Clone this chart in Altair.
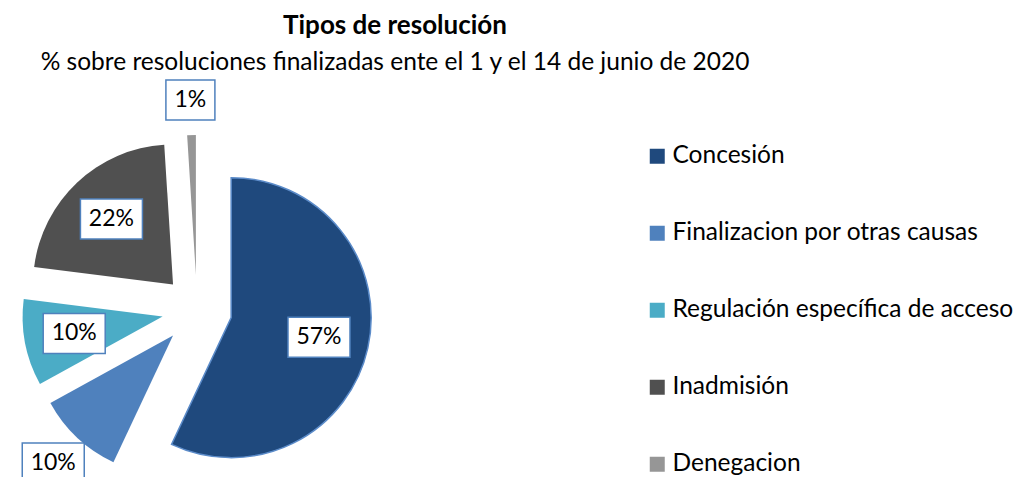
import altair as alt
import pandas as pd

# ---- data -----------------------------------------------------------
categories = [
    "Concesión",
    "Finalizacion por otras causas",
    "Regulación específica de acceso",
    "Inadmisión",
    "Denegacion",
]
values = [57, 10, 10, 22, 1]
colors = ["#1F497D", "#4F81BD", "#4BACC6", "#505050", "#969696"]
label_outside = [False, True, False, False, True]

title = "Tipos de resolución"
subtitle = "% sobre resoluciones finalizadas  ente el 1 y el 14 de junio de 2020"

df = pd.DataFrame({
    "category": categories,
    "value": values,
    "order": list(range(len(categories))),
    "outside": label_outside,
})

# ---- layout constants (view coordinates) ----------------------------
FONT = "Lato"
PAD_TOP = 70
CX, CY = 189, 310 - 8 - PAD_TOP
R = 140
EXPLODE = 35
R_IN, R_OUT = 125, 210

base = alt.Chart(df).transform_joinaggregate(
    total="sum(value)"
).transform_window(
    cum="sum(value)", sort=[alt.SortField("order")], frame=[None, 0]
).transform_calculate(
    t0="(datum.cum - datum.value) / datum.total * 2 * PI",
    t1="datum.cum / datum.total * 2 * PI",
).transform_calculate(
    mid="(datum.t0 + datum.t1) / 2",
).transform_calculate(
    cx=f"{CX} + {EXPLODE} * sin(datum.mid)",
    cy=f"{CY} - {EXPLODE} * cos(datum.mid)",
    lr=f"datum.outside ? {R_OUT} : {R_IN}",
    pct="format(datum.value / datum.total, '.0%')",
).transform_calculate(
    lx=f"{CX} + datum.lr * sin(datum.mid)",
    ly=f"{CY} - datum.lr * cos(datum.mid)",
    bw="23 + 13 * length(datum.pct)",
).transform_calculate(
    bx0="datum.lx - datum.bw / 2",
    bx1="datum.lx + datum.bw / 2",
    by0="datum.ly - 20",
    by1="datum.ly + 20",
)

color_scale = alt.Scale(domain=categories, range=colors)

arcs = base.mark_arc(radius=R).encode(
    theta=alt.Theta("t0:Q", scale=None),
    theta2="t1:Q",
    x=alt.X("cx:Q", scale=None),
    y=alt.Y("cy:Q", scale=None),
    color=alt.Color(
        "category:N",
        scale=color_scale,
        sort=categories,
        legend=alt.Legend(
            title=None,
            orient="none",
            legendX=637,
            legendY=136 - PAD_TOP,
            symbolType="square",
            symbolSize=225,
            symbolStrokeWidth=0,
            labelFont=FONT,
            labelFontSize=24.5,
            labelColor="#000000",
            labelOffset=3,
            rowPadding=52,
            padding=0,
            labelLimit=400,
        ),
    ),
    stroke=alt.condition(
        alt.datum.category == "Concesión", alt.value("#5B8BC9"), alt.value(None)
    ),
    strokeWidth=alt.value(1.5),
)

boxes = base.mark_rect(fill="white", stroke="#4F81BD", strokeWidth=1.5).encode(
    x=alt.X("bx0:Q", scale=None),
    x2="bx1:Q",
    y=alt.Y("by0:Q", scale=None),
    y2="by1:Q",
)

texts = base.mark_text(font=FONT, fontSize=23, color="#000000", baseline="middle").encode(
    x=alt.X("lx:Q", scale=None),
    y=alt.Y("ly:Q", scale=None),
    text="pct:N",
)

W = 774
chart = alt.layer(arcs, boxes, texts).properties(
    width=W,
    height=477 - 8 - PAD_TOP,
    autosize=alt.AutoSizeParams(type="none"),
    padding={"top": PAD_TOP, "left": 0, "right": 1007 - W, "bottom": 0},
    title=alt.TitleParams(
        text=title,
        subtitle=subtitle,
        anchor="middle",
        font=FONT,
        fontSize=26,
        fontWeight="bold",
        color="#000000",
        subtitleFont=FONT,
        subtitleFontSize=24.5,
        subtitleColor="#000000",
        subtitlePadding=12,
        offset=4,
    ),
).configure_view(stroke=None)

chart.save("out.html", embed_options={"renderer": "svg", "actions": False})
